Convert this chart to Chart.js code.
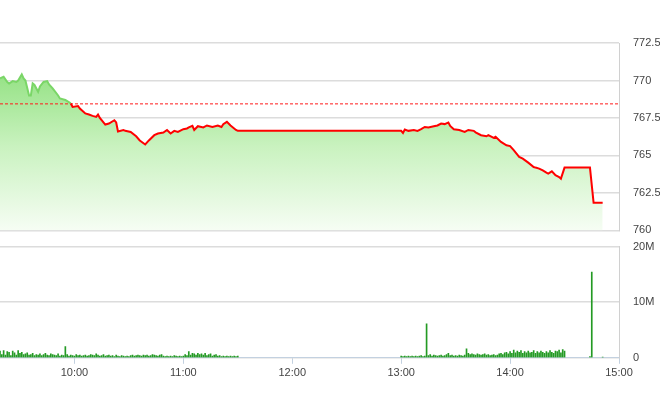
<!DOCTYPE html>
<html>
<head>
<meta charset="utf-8">
<script src="https://cdn.jsdelivr.net/npm/chart.js@4.4.1/dist/chart.umd.min.js"></script>
<style>
html, body { margin: 0; padding: 0; background: #fff; }
#wrap { position: relative; width: 660px; height: 412px; overflow: hidden; }
#price-box { position: absolute; left: 0; top: 0; width: 660px; height: 251px; }
#vol-box { position: absolute; left: 0; top: 226px; width: 660px; height: 165px; }
</style>
</head>
<body>
<div id="wrap">
  <div id="price-box"><canvas id="priceChart"></canvas></div>
  <div id="vol-box"><canvas id="volChart"></canvas></div>
</div>
<script>
// --- Data ---
const refPrice = 768.44;

const priceTimes = [
  '9:19', '9:21', '9:23', '9:24', '9:26', '9:28', '9:29', '9:31', '9:32', '9:33',
  '9:35', '9:36', '9:37', '9:38', '9:40', '9:41', '9:43', '9:45', '9:46', '9:48',
  '9:51', '9:52', '9:55', '9:58', '9:59', '10:02', '10:03', '10:06', '10:08', '10:10',
  '10:12', '10:13', '10:14', '10:17', '10:19', '10:22', '10:23', '10:24', '10:27', '10:28',
  '10:31', '10:34', '10:36', '10:39', '10:41', '10:44', '10:46', '10:49', '10:51', '10:53',
  '10:55', '10:57', '11:00', '11:02', '11:03', '11:05', '11:06', '11:08', '11:11', '11:13',
  '11:16', '11:19', '11:21', '11:22', '11:24', '11:26', '11:29', '11:30',
  '13:00', '13:01', '13:02', '13:04', '13:07', '13:09', '13:11', '13:13', '13:15', '13:18',
  '13:20', '13:22', '13:24', '13:26', '13:27', '13:29', '13:32', '13:35', '13:37', '13:40',
  '13:41', '13:44', '13:47', '13:48', '13:51', '13:52', '13:55', '13:58', '14:00', '14:02',
  '14:05', '14:07', '14:10', '14:13', '14:14', '14:16', '14:18', '14:20', '14:21', '14:23',
  '14:25', '14:27', '14:28', '14:30', '14:44', '14:46', '14:51'
];
const priceValues = [
  770.14, 770.25, 769.90, 769.80, 769.96, 769.90, 770.00, 770.40, 770.14, 770.00,
  769.00, 769.00, 769.80, 769.70, 769.25, 769.60, 769.90, 769.96, 769.74, 769.47,
  769.00, 768.80, 768.70, 768.47, 768.24, 768.30, 768.13, 767.80, 767.73, 767.64,
  767.57, 767.73, 767.50, 767.06, 767.13, 767.35, 767.20, 766.60, 766.70, 766.64,
  766.57, 766.28, 766.00, 765.73, 766.00, 766.35, 766.46, 766.53, 766.70, 766.46,
  766.64, 766.57, 766.75, 766.80, 766.87, 766.97, 766.70, 766.95, 766.87, 767.00,
  766.90, 767.00, 766.90, 767.09, 767.24, 767.00, 766.70, 766.64,
  766.64, 766.50, 766.73, 766.64, 766.70, 766.64, 766.75, 766.90, 766.87, 766.95,
  767.00, 767.13, 767.09, 767.20, 766.97, 766.75, 766.70, 766.57, 766.70, 766.64,
  766.54, 766.35, 766.28, 766.35, 766.17, 766.24, 765.90, 765.68, 765.62, 765.35,
  764.90, 764.79, 764.52, 764.23, 764.19, 764.12, 764.00, 763.85, 763.79, 763.94,
  763.68, 763.56, 763.45, 764.19, 764.19, 761.85, 761.85
];

// volume in millions, one bar per minute
const volMorningStart = '9:19';
const volMorning = [
  1.2, 0.6, 1.3, 0.5, 1.1, 1.0, 0.4, 1.2, 0.9, 0.5,
  1.3, 0.8, 1.0, 0.6, 0.7, 0.9, 0.5, 0.6, 0.8, 0.4,
  0.6, 0.5, 0.7, 0.4, 0.6, 0.8, 0.5, 0.4, 0.7, 0.6,
  0.5, 0.4, 0.7, 0.3, 0.5, 0.4, 2.0, 0.6, 0.3, 0.5,
  0.4, 0.3, 0.6, 0.4, 0.5, 0.3, 0.4, 0.5, 0.3, 0.4,
  0.6, 0.5, 0.4, 0.7, 0.5, 0.3, 0.4, 0.6, 0.3, 0.4,
  0.5, 0.3, 0.4, 0.2, 0.5, 0.3, 0.2, 0.4, 0.3, 0.2,
  0.3, 0.2, 0.4, 0.5, 0.3, 0.4, 0.5, 0.4, 0.3, 0.5,
  0.4, 0.5, 0.3, 0.4, 0.6, 0.5, 0.4, 0.3, 0.5, 0.6,
  0.3, 0.2, 0.3, 0.2, 0.3, 0.2, 0.4, 0.3, 0.2, 0.3,
  0.2, 0.3, 0.6, 0.4, 1.1, 0.5, 0.8, 0.7, 0.5, 0.8,
  0.6, 0.7, 0.5, 0.8, 0.4, 0.6, 0.7, 0.3, 0.5, 0.6,
  0.3, 0.4, 0.2, 0.3, 0.2, 0.3, 0.2, 0.3, 0.2, 0.3,
  0.2, 0.3
];
const volAfternoonStart = '13:00';
const volAfternoon = [
  0.3, 0.2, 0.3, 0.2, 0.3, 0.2, 0.3, 0.2, 0.3, 0.2,
  0.3, 0.4, 0.2, 0.3, 6.1, 0.4, 0.6, 0.3, 0.5, 0.4,
  0.3, 0.4, 0.5, 0.3, 0.4, 0.6, 0.8, 0.4, 0.5, 0.3,
  0.4, 0.3, 0.5, 0.4, 0.3, 0.5, 1.6, 0.8, 0.6, 0.7,
  0.6, 0.5, 0.7, 0.6, 0.5, 0.6, 0.7, 0.5, 0.6, 0.4,
  0.5, 0.6, 0.4, 0.5, 0.7, 0.8, 0.6, 0.9, 1.0, 0.7,
  1.1, 0.8, 1.4, 0.9, 1.2, 1.0, 1.3, 0.8, 1.1, 0.9,
  1.2, 0.9, 1.0, 1.3, 0.8, 1.1, 0.9, 1.2, 1.0, 0.8,
  1.1, 0.9, 1.3, 1.0, 0.8, 1.2, 1.1, 1.4, 0.9, 1.5,
  1.2
];
const volCloseTimes = ['14:44', '14:45', '14:51'];
const volClose = [0.2, 15.4, 0.1];

const priceTicks = [760, 762.5, 765, 767.5, 770, 772.5];
const volTicks = [0, 10, 20];
const timeTicks = ['10:00', '11:00', '12:00', '13:00', '14:00', '15:00'];
const xStart = '9:19';
const xEnd = '15:00';

// --- Helpers ---
const toMin = s => {
  const [h, m] = s.split(':').map(Number);
  return h * 60 + m;
};
const fmtTime = m => `${Math.floor(m / 60)}:${String(m % 60).padStart(2, '0')}`;

Chart.defaults.font.family = "'Liberation Sans', Arial, sans-serif";
Chart.defaults.font.size = 11;
Chart.defaults.color = '#444';
Chart.defaults.animation = false;

function timeAxis(show) {
  return {
    type: 'linear',
    min: toMin(xStart),
    max: toMin(xEnd),
    offset: false,
    display: show,
    afterBuildTicks: axis => { axis.ticks = timeTicks.map(t => ({ value: toMin(t) })); },
    ticks: { callback: v => fmtTime(v), padding: 3, maxRotation: 0, autoSkip: false },
    grid: { drawOnChartArea: false, tickLength: 6, color: '#c3d1e0', offset: false },
    border: { color: '#c3d1e0' }
  };
}

function rightAxis(min, max, ticks, fmt) {
  return {
    position: 'right',
    min: min,
    max: max,
    afterBuildTicks: axis => { axis.ticks = ticks.map(v => ({ value: v })); },
    afterFit: axis => { axis.width = 41; },
    ticks: { padding: 14, callback: fmt },
    grid: { drawTicks: false, color: '#dcdcdc', lineWidth: 1.5 },
    border: { display: true, color: '#d0d0d0' }
  };
}

function priceFill(ctx) {
  const area = ctx.chart.chartArea;
  if (!area) return 'rgba(0,0,0,0)';
  const g = ctx.chart.ctx.createLinearGradient(0, area.top, 0, area.bottom);
  g.addColorStop(0, '#7fdb6c');
  g.addColorStop(0.55, '#c9f2bf');
  g.addColorStop(1, '#f6fdf4');
  return g;
}

const pricePoints = priceTimes.map((t, i) => ({ x: toMin(t), y: priceValues[i] }));

// --- Price chart ---
new Chart(document.getElementById('priceChart'), {
  type: 'line',
  data: {
    datasets: [
      {
        // price line, green above the reference price, red below
        data: pricePoints,
        borderColor: '#ff0000',
        borderWidth: 2,
        pointRadius: 0,
        tension: 0,
        fill: false,
        segment: {
          borderColor: s => (s.p0.parsed.y > refPrice && s.p1.parsed.y > refPrice) ? '#7ad667' : '#ff0000'
        }
      },
      {
        data: [{ x: toMin(xStart), y: refPrice }, { x: toMin(xEnd), y: refPrice }],
        borderColor: '#ff1a1a',
        borderWidth: 1,
        borderDash: [3, 2],
        pointRadius: 0,
        fill: false
      },
      {
        // area under the price
        data: pricePoints,
        borderWidth: 0,
        borderColor: 'rgba(0,0,0,0)',
        pointRadius: 0,
        tension: 0,
        fill: 'start',
        backgroundColor: priceFill
      }
    ]
  },
  options: {
    responsive: true,
    maintainAspectRatio: false,
    layout: { padding: { top: 43, bottom: 10, left: 0, right: 0 } },
    plugins: {
      legend: { display: false },
      tooltip: { enabled: false }
    },
    scales: {
      x: timeAxis(false),
      y: rightAxis(760, 772.5, priceTicks, v => String(v))
    }
  }
});

// --- Volume chart ---
const volPoints = [
  ...volMorning.map((v, i) => ({ x: toMin(volMorningStart) + i, y: v })),
  ...volAfternoon.map((v, i) => ({ x: toMin(volAfternoonStart) + i, y: v })),
  ...volClose.map((v, i) => ({ x: toMin(volCloseTimes[i]), y: v }))
];

new Chart(document.getElementById('volChart'), {
  type: 'bar',
  data: {
    datasets: [{
      data: volPoints,
      backgroundColor: '#249a24',
      barThickness: 1,
      borderWidth: 0
    }]
  },
  options: {
    responsive: true,
    maintainAspectRatio: false,
    layout: { padding: { top: 7, bottom: 8, left: 0, right: 0 } },
    plugins: {
      legend: { display: false },
      tooltip: { enabled: false }
    },
    scales: {
      x: timeAxis(true),
      y: rightAxis(0, 20, volTicks, v => v === 0 ? '0' : v + 'M')
    }
  }
});
</script>
</body>
</html>
